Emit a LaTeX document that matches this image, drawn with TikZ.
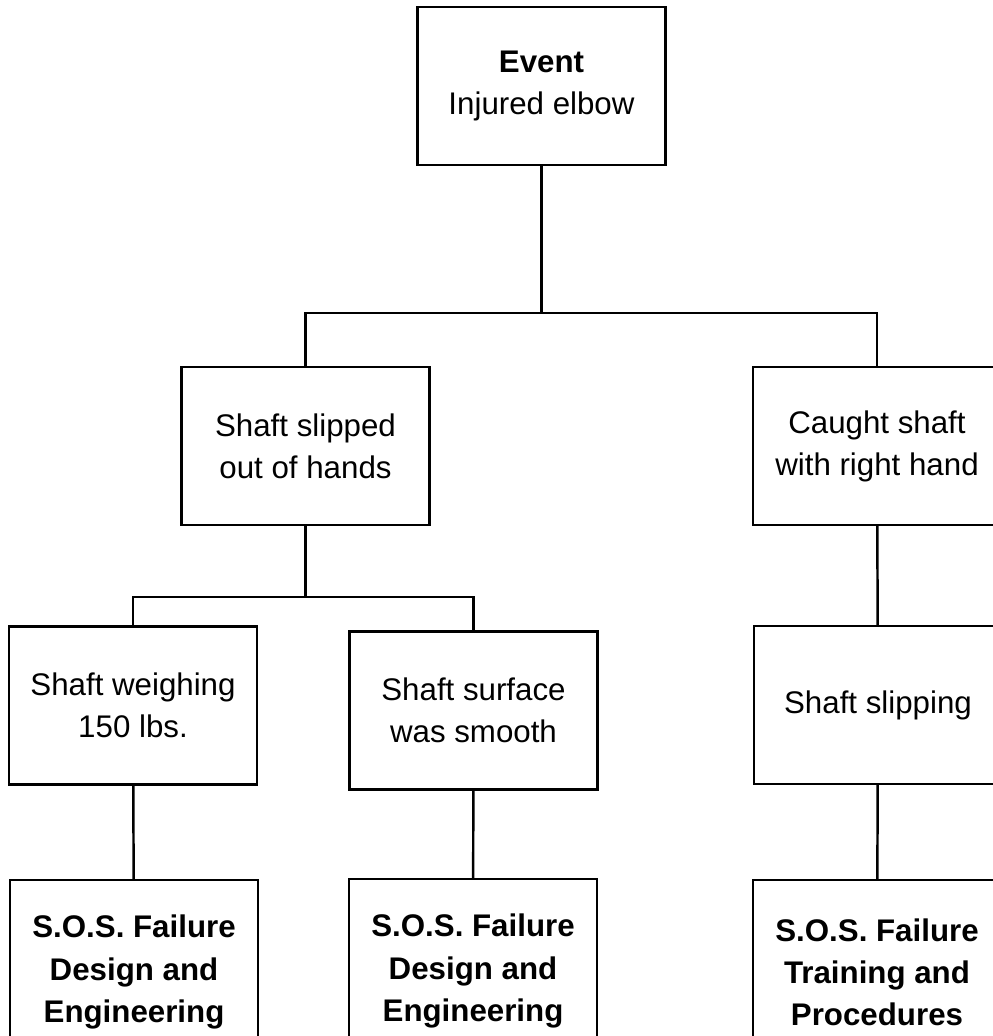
\documentclass[tikz,border=0pt]{standalone}
\usepackage{fontspec}
\setmainfont{Liberation Sans}
\begin{document}
\begin{tikzpicture}[
	x = 0.02cm, y = -0.02cm,
	line width = 1.4pt,
	every node/.style = {draw, rectangle, align = center, inner sep = 2pt,
		font = \fontsize{17.8}{24}\selectfont},
	box/.style = {minimum width = 4.96cm, minimum height = 3.16cm},
	sosbox/.style = {minimum width = 4.96cm, minimum height = 3.68cm, font = \fontsize{17.8}{24}\selectfont\bfseries},
	]
	
	\clip (0,0) rectangle (993,1036);
	
	% top event
	\node[box] (event) at (541.5,86) {\textbf{Event}\\Injured elbow};
	
	% causes
	\node[box] (slip) at (305.5,446) {Shaft slipped\\out of hands};
	\node[box] (catch) at (877,446) {Caught shaft\\with right hand};
	
	\node[box] (weigh) at (133,705.5) {Shaft weighing\\150 lbs.};
	\node[box] (smooth) at (473.5,710.5) {Shaft surface\\was smooth};
	\node[box] (slipping) at (878,705) {Shaft slipping};
	
	% root causes
	\node[sosbox] (sosA) at (134,972) {S.O.S. Failure\\Design and\\Engineering};
	\node[sosbox] (sosB) at (473,971) {S.O.S. Failure\\Design and\\Engineering};
	\node[sosbox] (sosC) at (877,972) {S.O.S. Failure\\Training and\\Procedures};
	
	% connectors
	\coordinate (j1) at (541.5,313);
	\coordinate (j2) at (305.5,597);
	\draw (event) -- (j1);
	\draw (slip.north) |- (j1) -| (catch.north);
	\draw (slip) -- (j2);
	\draw (weigh.north) |- (j2) -| (smooth.north);
	\draw (weigh) -- (sosA);
	\draw (smooth) -- (sosB);
	\draw (catch) -- (slipping);
	\draw (slipping) -- (sosC);
\end{tikzpicture}
\end{document}
